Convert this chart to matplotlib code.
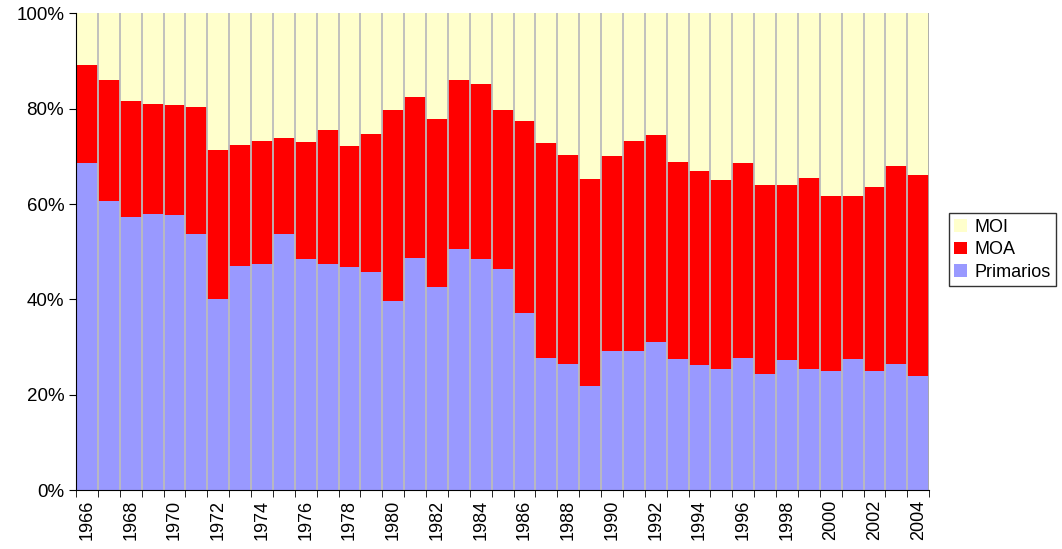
import matplotlib.pyplot as plt
import numpy as np

plt.rcParams['font.family'] = ['Liberation Sans', 'DejaVu Sans']

years = list(range(1966, 2005))

# share of exports (%)
primarios = [68.6, 60.7, 57.3, 58.0, 57.8, 53.8, 40.1, 47.0, 47.5, 53.8,
             48.5, 47.5, 46.8, 45.8, 39.7, 48.7, 42.6, 50.6, 48.5, 46.4,
             37.2, 27.7, 26.5, 21.8, 29.2, 29.2, 31.1, 27.6, 26.2, 25.4,
             27.7, 24.4, 27.3, 25.4, 25.0, 27.6, 25.0, 26.5, 24.0]
# cumulative top of the MOA segment
moa_top = [89.2, 86.0, 81.6, 81.0, 80.8, 80.4, 71.3, 72.4, 73.3, 73.9,
           73.0, 75.6, 72.2, 74.7, 79.8, 82.5, 77.9, 85.9, 85.2, 79.8,
           77.4, 72.7, 70.3, 65.3, 70.1, 73.3, 74.5, 68.8, 66.9, 65.1,
           68.6, 63.9, 63.9, 65.5, 61.7, 61.7, 63.6, 68.0, 66.1]

primarios = np.array(primarios)
moa = np.array(moa_top) - primarios
moi = 100 - np.array(moa_top)

fig = plt.figure(figsize=(10.62, 5.49), dpi=100)
ax = fig.add_axes([0.0716, 0.107, 0.8034, 0.869])

x = np.arange(len(years))
b1 = ax.bar(x, primarios, width=1.0, color="#9999ff", linewidth=0)
b2 = ax.bar(x, moa, width=1.0, bottom=primarios, color="#ff0000", linewidth=0)
b3 = ax.bar(x, moi, width=1.0, bottom=primarios + moa, color="#ffffcc",
            linewidth=0)

# light gray separators between the bars (excel style)
for b in list(b1)[1:]:
    ax.axvline(b.get_x(), color="#bcbcbc", linewidth=1.3, zorder=3)
ax.axvline(len(years) - 0.5, color="#a8a8a8", linewidth=1.3, zorder=3)

ax.set_xlim(-0.5, len(years) - 0.5)
ax.set_ylim(0, 100)
ax.set_yticks(range(0, 101, 20))
ax.set_yticklabels([f"{v}%" for v in range(0, 101, 20)], fontsize=13.5)
ax.set_axisbelow(True)
ax.yaxis.grid(True, color="#444444", linewidth=1)

ax.set_xticks(x[::2])
ax.set_xticklabels([str(y) for y in years[::2]], rotation=90, fontsize=13)
ax.set_xticks(np.arange(-0.5, len(years)), minor=True)
ax.tick_params(axis="x", which="major", length=0, pad=7)
ax.tick_params(axis="x", which="minor", length=5, color="black")
ax.tick_params(axis="y", length=5, color="black")

ax.spines["top"].set_visible(False)
ax.spines["right"].set_visible(False)
ax.spines["left"].set_zorder(4)
ax.spines["bottom"].set_zorder(4)

fig.legend([b3, b2, b1], ["MOI", "MOA", "Primarios"], loc="center left",
           bbox_to_anchor=(0.885, 0.545), fontsize=13, frameon=True,
           fancybox=False, edgecolor="black", handlelength=0.7,
           handleheight=0.7, handletextpad=0.4, borderpad=0.3,
           labelspacing=0.3)

fig.savefig("out.png", dpi=100)
